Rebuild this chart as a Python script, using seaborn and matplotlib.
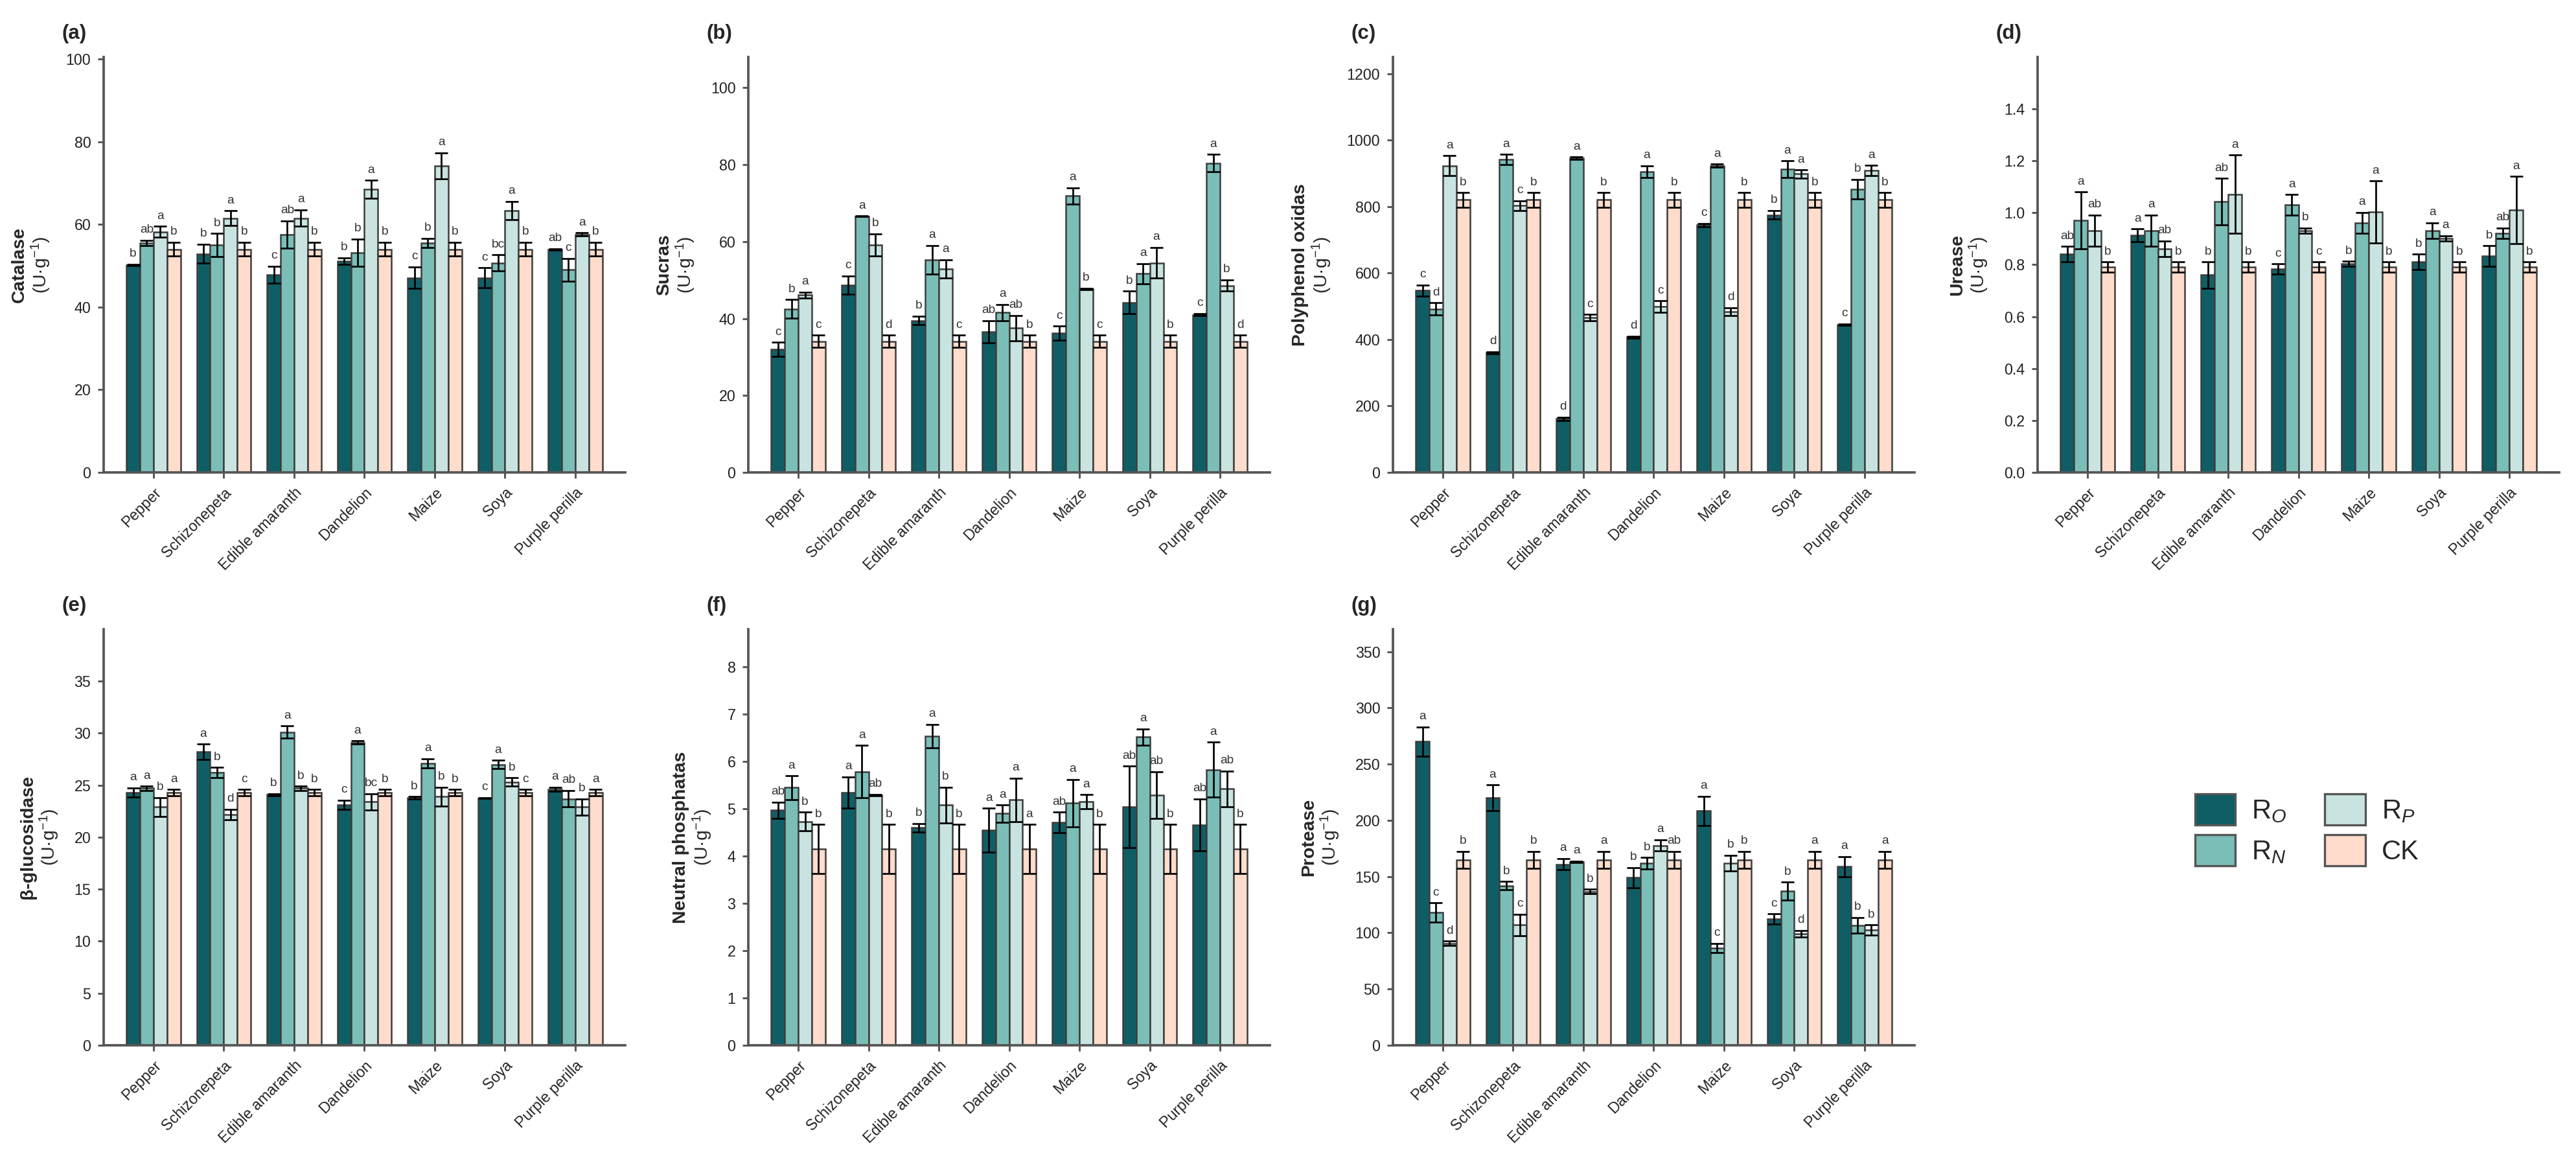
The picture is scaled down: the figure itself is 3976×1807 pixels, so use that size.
import numpy as np
import pandas as pd
import matplotlib
matplotlib.use("Agg")
import matplotlib.pyplot as plt
from matplotlib.patches import Patch
import seaborn as sns

# ---------------- data ----------------
crops = ["Pepper", "Schizonepeta", "Edible amaranth", "Dandelion", "Maize", "Soya", "Purple perilla"]
treatments = ["RO", "RN", "RP", "CK"]
legend_labels = [r"R$_{O}$", r"R$_{N}$", r"R$_{P}$", "CK"]
palette = ["#105E65", "#7ABEB7", "#C9E4E0", "#FFDCCB"]

# rows: RO, RN, RP, CK ; columns: crops
catalase_mean = [[50.2, 52.9, 47.8, 51.1, 47.1, 47.1, 54.0],
                 [55.5, 55.0, 57.6, 53.2, 55.5, 50.7, 49.0],
                 [58.2, 61.5, 61.5, 68.5, 74.2, 63.4, 57.6],
                 [54.0, 54.0, 54.0, 54.0, 54.0, 54.0, 54.0]]
catalase_err = [[0.2, 2.3, 2.1, 0.8, 2.6, 2.4, 0.15],
                [0.7, 2.8, 3.3, 3.3, 1.1, 1.9, 2.8],
                [1.3, 1.8, 2.0, 2.2, 3.1, 2.2, 0.4],
                [1.7, 1.7, 1.7, 1.7, 1.7, 1.7, 1.7]]
catalase_let = [["b", "b", "c", "b", "c", "c", "ab"],
                ["ab", "b", "ab", "b", "b", "bc", "c"],
                ["a", "a", "a", "a", "a", "a", "a"],
                ["b", "b", "b", "b", "b", "b", "b"]]

sucras_mean = [[32.0, 48.7, 39.5, 36.6, 36.2, 44.2, 41.0],
               [42.5, 66.6, 55.3, 41.6, 71.9, 51.7, 80.4],
               [46.1, 59.1, 52.9, 37.5, 47.7, 54.5, 48.6],
               [34.1, 34.1, 34.1, 34.1, 34.1, 34.1, 34.1]]
sucras_err = [[1.8, 2.4, 1.1, 2.9, 1.8, 2.9, 0.3],
              [2.4, 0.1, 3.7, 2.1, 2.1, 2.6, 2.3],
              [0.8, 2.9, 2.4, 3.3, 0.2, 4.0, 1.5],
              [1.6, 1.6, 1.6, 1.6, 1.6, 1.6, 1.6]]
sucras_let = [["c", "c", "b", "ab", "c", "b", "c"],
              ["b", "a", "a", "a", "a", "a", "a"],
              ["a", "b", "a", "ab", "b", "a", "b"],
              ["c", "d", "c", "b", "c", "b", "d"]]

ppo_mean = [[547, 360, 161, 407, 744, 775, 445],
            [492, 942, 945, 905, 923, 912, 852],
            [923, 803, 466, 499, 484, 898, 909],
            [820, 820, 820, 820, 820, 820, 820]]
ppo_err = [[17, 3, 5, 3, 5, 13, 2],
           [18, 15, 4, 18, 5, 25, 30],
           [30, 15, 9, 17, 12, 12, 15],
           [22, 22, 22, 22, 22, 22, 22]]
ppo_let = [["c", "d", "d", "d", "c", "b", "c"],
           ["d", "a", "a", "a", "a", "a", "b"],
           ["a", "c", "c", "c", "d", "a", "a"],
           ["b", "b", "b", "b", "b", "b", "b"]]

urease_mean = [[0.840, 0.913, 0.760, 0.783, 0.803, 0.811, 0.833],
               [0.970, 0.932, 1.043, 1.030, 0.962, 0.932, 0.922],
               [0.932, 0.862, 1.072, 0.932, 1.003, 0.902, 1.010],
               [0.790, 0.790, 0.790, 0.790, 0.790, 0.790, 0.790]]
urease_err = [[0.03, 0.025, 0.05, 0.02, 0.01, 0.03, 0.04],
              [0.11, 0.06, 0.09, 0.04, 0.04, 0.03, 0.02],
              [0.06, 0.03, 0.15, 0.01, 0.12, 0.01, 0.13],
              [0.02, 0.02, 0.02, 0.02, 0.02, 0.02, 0.02]]
urease_let = [["ab", "a", "b", "c", "b", "b", "b"],
              ["a", "a", "ab", "a", "a", "a", "ab"],
              ["ab", "ab", "a", "b", "a", "a", "a"],
              ["b", "b", "b", "c", "b", "b", "b"]]

bglu_mean = [[24.3, 28.2, 24.1, 23.1, 23.8, 23.76, 24.6],
             [24.7, 26.2, 30.1, 29.1, 27.1, 27.0, 23.7],
             [22.9, 22.2, 24.7, 23.4, 23.9, 25.3, 22.9],
             [24.3, 24.3, 24.3, 24.3, 24.3, 24.3, 24.3]]
bglu_err = [[0.45, 0.75, 0.1, 0.45, 0.1, 0.05, 0.2],
            [0.2, 0.5, 0.6, 0.15, 0.45, 0.4, 0.8],
            [0.9, 0.5, 0.2, 0.8, 0.9, 0.4, 0.8],
            [0.3, 0.3, 0.3, 0.3, 0.3, 0.3, 0.3]]
bglu_let = [["a", "a", "b", "c", "b", "c", "a"],
            ["a", "b", "a", "a", "a", "a", "ab"],
            ["b", "d", "b", "bc", "b", "b", "b"],
            ["a", "c", "b", "b", "b", "c", "a"]]

nph_mean = [[4.97, 5.35, 4.60, 4.55, 4.71, 5.04, 4.66],
            [5.45, 5.79, 6.54, 4.90, 5.12, 6.52, 5.83],
            [4.73, 5.29, 5.08, 5.19, 5.15, 5.29, 5.42],
            [4.15, 4.15, 4.15, 4.15, 4.15, 4.15, 4.15]]
nph_err = [[0.17, 0.33, 0.09, 0.46, 0.22, 0.86, 0.55],
           [0.25, 0.55, 0.25, 0.18, 0.5, 0.17, 0.58],
           [0.2, 0.02, 0.38, 0.46, 0.15, 0.5, 0.38],
           [0.52, 0.52, 0.52, 0.52, 0.52, 0.52, 0.52]]
nph_let = [["ab", "a", "b", "a", "ab", "ab", "ab"],
           ["a", "a", "a", "a", "a", "a", "a"],
           ["b", "ab", "b", "a", "a", "ab", "ab"],
           ["b", "b", "b", "a", "b", "b", "b"]]

protease_mean = [[270, 220, 161, 149, 208.5, 112.4, 158.8],
                 [118, 142, 163, 162, 86.5, 137, 106.7],
                 [90.5, 107, 136.6, 177.7, 162, 99, 102.4],
                 [165, 165, 165, 165, 165, 165, 165]]
protease_err = [[13, 11.5, 5, 9, 13, 4.5, 9],
                [8.5, 3.5, 0.7, 5, 4, 8, 7],
                [2, 9.5, 2, 5, 7, 3, 4.5],
                [7.5, 7.5, 7.5, 7.5, 7.5, 7.5, 7.5]]
protease_let = [["a", "a", "a", "b", "a", "c", "a"],
                ["c", "b", "a", "b", "c", "b", "b"],
                ["d", "c", "b", "a", "b", "d", "b"],
                ["b", "b", "a", "ab", "b", "a", "a"]]

panels = [
    ("(a)", "Catalase", catalase_mean, catalase_err, catalase_let, 100.5, np.arange(0, 101, 20), "{:.0f}"),
    ("(b)", "Sucras", sucras_mean, sucras_err, sucras_let, 108, np.arange(0, 101, 20), "{:.0f}"),
    ("(c)", "Polyphenol oxidas", ppo_mean, ppo_err, ppo_let, 1250, np.arange(0, 1201, 200), "{:.0f}"),
    ("(d)", "Urease", urease_mean, urease_err, urease_let, 1.6, np.arange(0, 1.41, 0.2), "{:.1f}"),
    ("(e)", "β-glucosidase", bglu_mean, bglu_err, bglu_let, 40, np.arange(0, 36, 5), "{:.0f}"),
    ("(f)", "Neutral phosphatas", nph_mean, nph_err, nph_let, 8.8, np.arange(0, 9, 1), "{:.0f}"),
    ("(g)", "Protease", protease_mean, protease_err, protease_let, 370, np.arange(0, 351, 50), "{:.0f}"),
]

# ---------------- style ----------------
sns.set_style("ticks")
plt.rcParams["font.family"] = ["Liberation Sans", "DejaVu Sans"]
plt.rcParams["mathtext.fontset"] = "custom"
plt.rcParams["mathtext.rm"] = "Liberation Sans"
plt.rcParams["mathtext.it"] = "Liberation Sans:italic"
plt.rcParams["mathtext.bf"] = "Liberation Sans:bold"

W, H = 3976, 1807
fig = plt.figure(figsize=(W / 300, H / 300), dpi=300)

axw = 0.2025
top_b, top_h = 0.5966, 0.3547
bot_b, bot_h = 0.1074, 0.3553
positions = [
    (0.0402, top_b, axw, top_h),
    (0.2905, top_b, axw, top_h),
    (0.5407, top_b, axw, top_h),
    (0.7910, top_b, axw, top_h),
    (0.0402, bot_b, axw, bot_h),
    (0.2905, bot_b, axw, bot_h),
    (0.5407, bot_b, axw, bot_h),
]

spine_col = "#555555"
for (plabel, name, mean, err, let, ytop, yticks, fmt), pos in zip(panels, positions):
    ax = fig.add_axes(pos)
    rows = []
    for ti, t in enumerate(treatments):
        for ci, c in enumerate(crops):
            rows.append({"crop": c, "treat": t, "value": mean[ti][ci]})
    df = pd.DataFrame(rows)
    sns.barplot(data=df, x="crop", y="value", hue="treat", order=crops, hue_order=treatments,
                palette=palette, width=0.77, saturation=1, errorbar=None, legend=False,
                edgecolor="#3d3d3d", linewidth=0.6, ax=ax)
    bar_conts = list(ax.containers)
    for ti, cont in enumerate(bar_conts):
        xs = [b.get_x() + b.get_width() / 2 for b in cont]
        ys = [b.get_height() for b in cont]
        ax.errorbar(xs, ys, yerr=err[ti], fmt="none", ecolor="black", elinewidth=0.65,
                    capsize=2.4, capthick=0.65, zorder=5)
        for x, y, e, l in zip(xs, ys, err[ti], let[ti]):
            ax.annotate(l, (x, y + e), xytext=(0, 1.8), textcoords="offset points",
                        ha="center", va="bottom", fontsize=4.6, color="#333333")
    ax.set_xlim(-0.71, 6.71)
    ax.set_ylim(0, ytop)
    ax.set_yticks(yticks)
    ax.set_yticklabels([fmt.format(v) for v in yticks])
    ax.set_xticks(range(len(crops)))
    ax.set_xticklabels(crops, rotation=45, ha="right", va="top", rotation_mode="anchor")
    ax.set_xlabel("")
    ax.set_ylabel(name + "\n" + r"$\mathrm{(U·g^{-1})}$", fontsize=6.8, fontweight="bold",
                  labelpad=5, linespacing=1.1)
    for s in ["top", "right"]:
        ax.spines[s].set_visible(False)
    for s in ["left", "bottom"]:
        ax.spines[s].set_color(spine_col)
        ax.spines[s].set_linewidth(0.9)
    ax.tick_params(axis="both", labelsize=5.6, length=2.2, width=0.7, color=spine_col,
                   labelcolor="#222222", pad=2.5)
    ax.text(-0.08, 1.056, plabel, transform=ax.transAxes, ha="left", va="center",
            fontsize=7.5, fontweight="bold")

handles = [Patch(facecolor=c, edgecolor="#555555", linewidth=0.8) for c in palette]
fig.legend(handles, legend_labels, ncol=2, loc="upper left",
           bbox_to_anchor=(0.8521, 0.322), frameon=False, fontsize=10,
           handlelength=1.5, handleheight=1.4, handletextpad=0.6, columnspacing=1.4,
           labelspacing=0.35, borderpad=0, borderaxespad=0)

fig.savefig("out.png", dpi=300)
